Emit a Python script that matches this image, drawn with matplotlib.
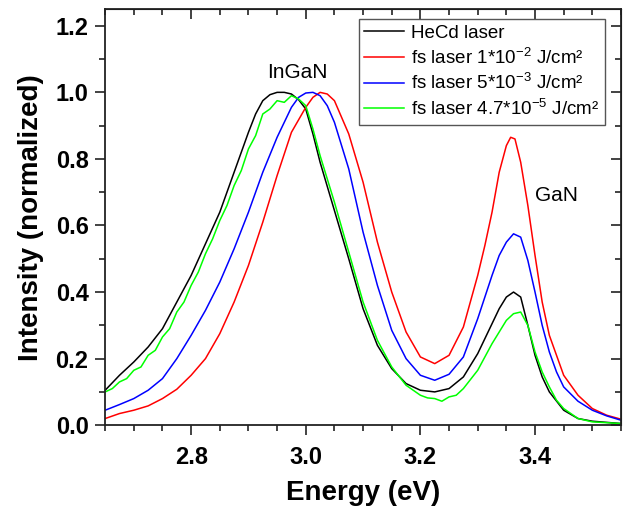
import numpy as np
from matplotlib import pyplot as plt
from matplotlib.ticker import MultipleLocator

plt.rcParams['font.family'] = ['Liberation Sans', 'DejaVu Sans']
plt.rcParams['mathtext.default'] = 'regular'

# spectra (energy in eV, intensity normalized)
e_hecd = [2.65, 2.675, 2.70, 2.725, 2.75, 2.775, 2.80, 2.825, 2.85, 2.875, 2.90, 2.9125,
          2.925, 2.9375, 2.95, 2.9625, 2.975, 2.9875, 3.00, 3.0125, 3.025, 3.05, 3.075,
          3.10, 3.125, 3.15, 3.175, 3.20, 3.225, 3.25, 3.275, 3.30, 3.325, 3.3375, 3.35,
          3.3625, 3.375, 3.3875, 3.40, 3.4125, 3.425, 3.45, 3.475, 3.50, 3.55]
i_hecd = [0.105, 0.15, 0.19, 0.235, 0.29, 0.37, 0.45, 0.545, 0.64, 0.76, 0.88, 0.935,
          0.975, 0.993, 1.0, 1.0, 0.995, 0.978, 0.95, 0.875, 0.79, 0.645, 0.50,
          0.35, 0.24, 0.17, 0.125, 0.105, 0.10, 0.11, 0.145, 0.215, 0.305, 0.35, 0.385,
          0.40, 0.385, 0.30, 0.21, 0.145, 0.10, 0.045, 0.02, 0.012, 0.005]

e_fs1 = [2.65, 2.675, 2.70, 2.725, 2.75, 2.775, 2.80, 2.825, 2.85, 2.875, 2.90, 2.925,
         2.95, 2.975, 3.00, 3.0125, 3.025, 3.0375, 3.05, 3.075, 3.10, 3.125, 3.15, 3.175,
         3.20, 3.225, 3.25, 3.275, 3.30, 3.3125, 3.325, 3.3375, 3.35, 3.3575, 3.365,
         3.375, 3.3875, 3.40, 3.4125, 3.425, 3.45, 3.475, 3.50, 3.525, 3.55]
i_fs1 = [0.02, 0.035, 0.045, 0.058, 0.08, 0.108, 0.15, 0.20, 0.275, 0.37, 0.48, 0.61,
         0.75, 0.88, 0.955, 0.985, 1.0, 0.995, 0.975, 0.875, 0.73, 0.55, 0.40, 0.28,
         0.205, 0.185, 0.21, 0.295, 0.45, 0.54, 0.64, 0.76, 0.84, 0.865, 0.86,
         0.79, 0.66, 0.51, 0.37, 0.27, 0.15, 0.09, 0.05, 0.03, 0.018]

e_fs2 = [2.65, 2.675, 2.70, 2.725, 2.75, 2.775, 2.80, 2.825, 2.85, 2.875, 2.90, 2.925,
         2.95, 2.975, 2.9875, 3.00, 3.0125, 3.025, 3.0375, 3.05, 3.075, 3.10, 3.125, 3.15,
         3.175, 3.20, 3.225, 3.25, 3.275, 3.30, 3.325, 3.3375, 3.35, 3.3625, 3.375,
         3.3875, 3.40, 3.4125, 3.425, 3.4375, 3.45, 3.475, 3.50, 3.525, 3.55]
i_fs2 = [0.045, 0.062, 0.08, 0.105, 0.14, 0.2, 0.27, 0.345, 0.43, 0.53, 0.64, 0.76,
         0.865, 0.955, 0.985, 0.998, 1.0, 0.99, 0.96, 0.91, 0.77, 0.58, 0.42, 0.285,
         0.2, 0.15, 0.135, 0.153, 0.205, 0.32, 0.45, 0.51, 0.55, 0.575, 0.565,
         0.495, 0.40, 0.30, 0.22, 0.16, 0.115, 0.072, 0.045, 0.028, 0.015]

e_fs3 = [2.65, 2.6625, 2.675, 2.6875, 2.70, 2.7125, 2.725, 2.7375, 2.75, 2.7625, 2.775,
         2.7875, 2.80, 2.8125, 2.825, 2.8375, 2.85, 2.8625, 2.875, 2.8875, 2.90, 2.9125,
         2.925, 2.9375, 2.95, 2.9625, 2.975, 2.9875, 3.00, 3.0125, 3.025, 3.05, 3.075,
         3.10, 3.125, 3.15, 3.175, 3.20, 3.2125, 3.225, 3.2375, 3.25, 3.2625, 3.275,
         3.30, 3.325, 3.3375, 3.35, 3.3625, 3.375, 3.3875, 3.40, 3.4125, 3.425, 3.4375,
         3.45, 3.475, 3.50, 3.55]
i_fs3 = [0.10, 0.11, 0.13, 0.14, 0.165, 0.175, 0.21, 0.225, 0.265, 0.29, 0.34,
         0.37, 0.42, 0.46, 0.515, 0.56, 0.615, 0.66, 0.72, 0.765, 0.83, 0.87,
         0.935, 0.95, 0.975, 0.97, 0.99, 0.98, 0.96, 0.89, 0.81, 0.67, 0.52,
         0.37, 0.255, 0.175, 0.12, 0.09, 0.082, 0.08, 0.072, 0.085, 0.09, 0.11,
         0.165, 0.245, 0.28, 0.315, 0.335, 0.34, 0.30, 0.22, 0.16, 0.115, 0.075,
         0.05, 0.02, 0.01, 0.005]

labels = ['HeCd laser',
          r'fs laser 1*10$^{-2}$ J/cm²',
          r'fs laser 5*10$^{-3}$ J/cm²',
          r'fs laser 4.7*10$^{-5}$ J/cm²']
colors = ['black', '#ff0000', '#0000ff', '#00ff00']

fig = plt.figure(figsize=(6.26, 5.08), dpi=100)
ax = fig.add_axes([0.168, 0.163, 0.824, 0.819])

series = [(e_hecd, i_hecd), (e_fs1, i_fs1), (e_fs2, i_fs2), (e_fs3, i_fs3)]
for (e, i), lab, c in zip(series, labels, colors):
    ax.plot(e, i, color=c, lw=1.1, label=lab)

ax.set_xlim(2.65, 3.55)
ax.set_ylim(0.0, 1.25)
ax.xaxis.set_major_locator(MultipleLocator(0.2))
ax.xaxis.set_minor_locator(MultipleLocator(0.05))
ax.yaxis.set_major_locator(MultipleLocator(0.2))
ax.yaxis.set_minor_locator(MultipleLocator(0.1))
ax.xaxis.set_major_formatter(plt.FormatStrFormatter('%.1f'))
ax.yaxis.set_major_formatter(plt.FormatStrFormatter('%.1f'))

for s in ax.spines.values():
    s.set_linewidth(1.3)
    s.set_color('#222222')

ax.tick_params(which='both', direction='out', top=False, right=False, width=1.2, color='#222222')
ax.tick_params(which='major', length=7, labelsize=17, pad=8)
ax.tick_params(which='minor', length=4)
ax.tick_params(axis='y', which='major', pad=5)

# inward mirror ticks on top and right, no labels
axt = ax.secondary_xaxis('top')
axt.xaxis.set_major_locator(MultipleLocator(0.2))
axt.xaxis.set_minor_locator(MultipleLocator(0.05))
axt.tick_params(which='both', direction='in', labeltop=False, width=1.2, color='#222222')
axt.tick_params(which='major', length=7)
axt.tick_params(which='minor', length=4)
axr = ax.secondary_yaxis('right')
axr.yaxis.set_major_locator(MultipleLocator(0.2))
axr.yaxis.set_minor_locator(MultipleLocator(0.1))
axr.tick_params(which='both', direction='in', labelright=False, width=1.2, color='#222222')
axr.tick_params(which='major', length=7)
axr.tick_params(which='minor', length=4)

for lab in ax.get_xticklabels() + ax.get_yticklabels():
    lab.set_fontweight('bold')

ax.set_xlabel('Energy (eV)', fontsize=20, fontweight='bold', labelpad=8)
ax.set_ylabel('Intensity (normalized)', fontsize=20, fontweight='bold', labelpad=8)

ax.text(2.985, 1.06, 'InGaN', fontsize=15, ha='center', va='center')
ax.text(3.437, 0.69, 'GaN', fontsize=15, ha='center', va='center')

leg = ax.legend(loc='upper right', bbox_to_anchor=(0.969, 0.976), borderaxespad=0,
                fontsize=13.5, handlelength=2.1, handletextpad=0.4, labelspacing=0.3,
                borderpad=0.3, fancybox=False, framealpha=1)
leg.get_frame().set_edgecolor('#555555')
leg.get_frame().set_linewidth(1.0)

plt.savefig('out.png', dpi=100)
plt.close(fig)
